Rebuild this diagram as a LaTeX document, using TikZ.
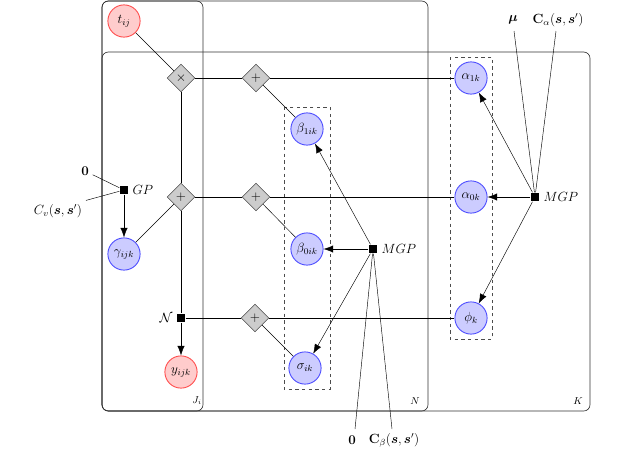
\documentclass[tikz,border=0pt]{standalone}
\usepackage{amsmath,amssymb,bm}
\usetikzlibrary{shapes.geometric,arrows.meta,calc}
\tikzset{latent/.style = {
  circle, draw=blue!70, fill=blue!20, thick,
  minimum size=29pt, inner sep=0pt
  }}
\tikzset{obs/.style = {
  latent,
  draw=red!70, fill=red!20
  }}
\tikzset{opbox/.style = {
  diamond, draw=black!70, fill=black!20,
  minimum size=25pt, inner sep=0pt
  }}
\tikzset{factor/.style = {
  rectangle, fill=black, minimum size=8pt, inner sep=0pt
  }}
\tikzset{plate/.style = {
  draw=black!80, semithick, rounded corners=2mm
  }}
\tikzset{group/.style = {
  draw=black!70, dashed
  }}
\tikzset{edge/.style = {
  -{Latex[length=3mm]}, black
  }}
\begin{document}
\begin{tikzpicture}[x=0.9pt, y=-0.9pt, every node/.style={font=\large}]
\useasboundingbox (0,0) rectangle (622,455);

% PLATES
\draw [plate] (102,1) rectangle (203,411);
\draw [plate] (102,1) rectangle (428,411);
\draw [plate] (102,52) rectangle (590,411);
\node at (197,401) {\small $J_i$};
\node at (415,401) {\small $N$};
\node at (578,401) {\small $K$};
\draw [group] (284,107) rectangle (330,389);
\draw [group] (450,57) rectangle (492,339);

% NODES
\node (t) [obs] at (124,21) {$t_{ij}$};
\node (times) [opbox] at (181,78) {$\times$};
\node (pa) [opbox] at (256,78) {$+$};
\node (pb) [opbox] at (181,197) {$+$};
\node (pc) [opbox] at (256,197) {$+$};
\node (pd) [opbox] at (255,318) {$+$};
\node (b1) [latent] at (307,129) {$\beta_{1ik}$};
\node (b0) [latent] at (307,249) {$\beta_{0ik}$};
\node (sig) [latent] at (305,368) {$\sigma_{ik}$};
\node (a1) [latent] at (471,78) {$\alpha_{1k}$};
\node (a0) [latent] at (471,197) {$\alpha_{0k}$};
\node (phi) [latent] at (471,318) {$\phi_k$};
\node (gam) [latent] at (124,254) {$\gamma_{ijk}$};
\node (y) [obs] at (181,372) {$y_{ijk}$};

\node (gp) [factor, label=right:{$GP$}] at (124,190) {};
\node (nf) [factor, label=left:{$\mathcal{N}$}] at (181,318) {};
\node (mgpb) [factor, label=right:{$MGP$}] at (373,249) {};
\node (mgpa) [factor, label=right:{$MGP$}] at (535,197) {};

\node (zv) at (85,171) {$\mathbf{0}$};
\node (cv) at (58,211) {$C_v(\bm{s},\bm{s}')$};
\node (mu) at (513,20) {$\bm{\mu}$};
\node (ca) at (558,20) {$\mathbf{C}_\alpha(\bm{s},\bm{s}')$};
\node (zb) at (352,440) {$\mathbf{0}$};
\node (cb) at (394,440) {$\mathbf{C}_\beta(\bm{s},\bm{s}')$};
\coordinate (muend) at (514,31);
\coordinate (caend) at (556,31);
\coordinate (zbend) at (355,429);
\coordinate (cbend) at (392,429);

% lines
\draw (t) -- (times);
\draw (times) -- (pa) -- (a1);
\draw (times) -- (pb);
\draw (gam) -- (pb);
\draw (pb) -- (pc) -- (a0);
\draw (pb) -- (nf);
\draw (nf) -- (pd) -- (phi);
\draw (b1) -- (pa);
\draw (b0) -- (pc);
\draw (sig) -- (pd);
\draw (zv) -- (gp);
\draw (cv.north east) -- (gp);
\draw (muend) -- (mgpa);
\draw (caend) -- (mgpa);
\draw (zbend) -- (mgpb);
\draw (cbend) -- (mgpb);

% arrows
\draw [edge] (gp) -- (gam);
\draw [edge] (nf) -- (y);
\draw [edge] (mgpb) -- (b0);
\draw [edge] (mgpb) -- (b1);
\draw [edge] (mgpb) -- (sig);
\draw [edge] (mgpa) -- (a1);
\draw [edge] (mgpa) -- (a0);
\draw [edge] (mgpa) -- (phi);
\end{tikzpicture}
\end{document}
